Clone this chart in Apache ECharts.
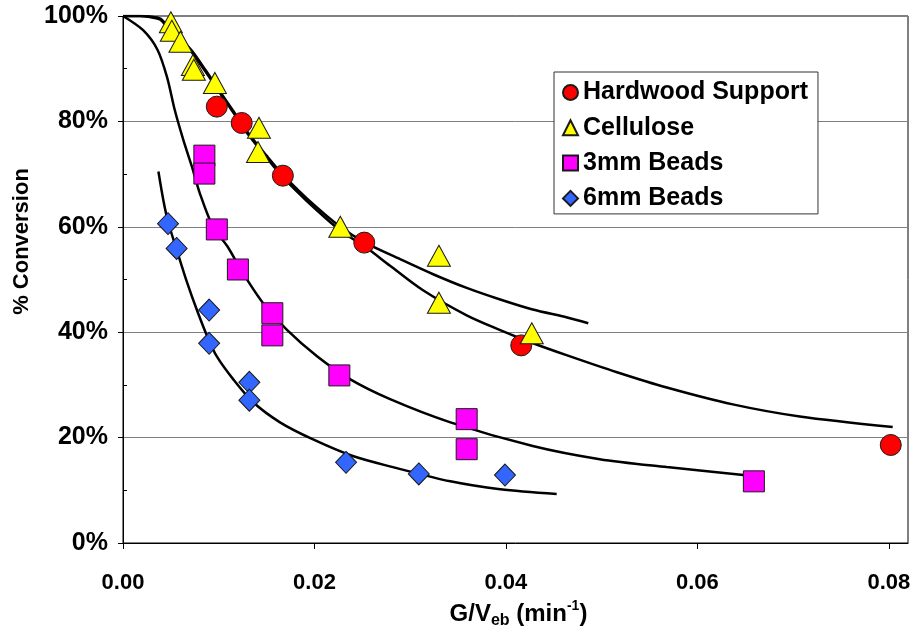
<!DOCTYPE html>
<html>
<head>
<meta charset="utf-8">
<title>Conversion vs G/Veb</title>
<script src="https://cdn.jsdelivr.net/npm/echarts@6/dist/echarts.min.js"></script>
<style>
  html, body { margin: 0; padding: 0; background: #fff; }
  #chart { width: 917px; height: 634px; }
</style>
</head>
<body>
<div id="chart"></div>
<script>
// measured points, [G/Veb, % conversion]
const hardwood = [[0.0098, 82.8], [0.0124, 79.7], [0.0167, 69.7], [0.0252, 57.0], [0.0416, 37.5], [0.0802, 18.6]];
const cellulose = [
  [0.0050, 98.8], [0.0051, 97.2], [0.0060, 95.1], [0.0073, 90.7], [0.0074, 89.8],
  [0.0096, 87.3], [0.0142, 78.8], [0.0141, 74.2], [0.0227, 60.0], [0.0330, 54.5],
  [0.0330, 45.6], [0.0427, 39.8]
];
const beads3mm = [
  [0.0085, 73.5], [0.0085, 70.1], [0.0098, 59.5], [0.0120, 51.9], [0.0156, 43.6],
  [0.0156, 39.4], [0.0226, 31.8], [0.0359, 23.5], [0.0359, 17.8], [0.0659, 11.7]
];
const beads6mm = [
  [0.0047, 60.6], [0.0056, 55.9], [0.0090, 44.2], [0.0090, 37.9], [0.0132, 30.5],
  [0.0132, 27.1], [0.0233, 15.3], [0.0309, 13.1], [0.0399, 12.9]
];

// fitted curves
const hardwoodFit = [
  [0, 100], [0.0018, 100], [0.0028, 99.8], [0.0039, 99.3], [0.0047, 97.7], [0.0060, 95.4],
  [0.0072, 93.1], [0.0086, 89.5], [0.0103, 84.9], [0.0117, 81.2], [0.0130, 77.7],
  [0.0150, 73.1], [0.0167, 69.4], [0.0192, 64.9], [0.0227, 59.3], [0.0253, 56.2],
  [0.0279, 52.6], [0.0313, 48.0], [0.0359, 43.2], [0.0394, 40.4], [0.0427, 38.0],
  [0.0464, 35.6], [0.0516, 32.4], [0.0568, 29.5], [0.0637, 26.3], [0.0707, 24.0], [0.0804, 22.0]
];
const celluloseFit = [
  [0, 100], [0.0018, 100], [0.0028, 99.9], [0.0039, 99.5], [0.0047, 98.0], [0.0060, 95.7],
  [0.0072, 93.4], [0.0086, 89.8], [0.0103, 85.2], [0.0117, 81.5], [0.0130, 78.0],
  [0.0150, 73.5], [0.0167, 69.9], [0.0192, 65.4], [0.0227, 60.0], [0.0253, 57.0],
  [0.0289, 53.9], [0.0324, 51.0], [0.0359, 48.4], [0.0394, 46.2], [0.0428, 44.3],
  [0.0464, 42.8], [0.0486, 41.7]
];
const beads3mmFit = [
  [0, 100], [0.0021, 97.3], [0.0036, 93.6], [0.0046, 88.4], [0.0054, 82.2], [0.0063, 76.5],
  [0.0072, 71.4], [0.0080, 66.5], [0.0094, 60.0], [0.0109, 56.3], [0.0125, 51.3],
  [0.0146, 45.6], [0.0171, 40.5], [0.0203, 35.4], [0.0237, 31.1], [0.0279, 27.3],
  [0.0342, 22.9], [0.0428, 18.4], [0.0498, 15.9], [0.0568, 14.4], [0.0648, 12.9]
];
const beads6mmFit = [
  [0.0037, 70.5], [0.0042, 65.2], [0.0047, 61.0], [0.0056, 55.7], [0.0067, 49.4],
  [0.0077, 44.3], [0.0088, 39.2], [0.0098, 35.4], [0.0115, 31.1], [0.0136, 26.7],
  [0.0164, 22.9], [0.0198, 19.7], [0.0240, 16.5], [0.0282, 14.4], [0.0342, 11.7],
  [0.0394, 10.2], [0.0453, 9.3]
];

const xTicks = [0, 0.02, 0.04, 0.06, 0.08];

const FONT = 'Arial, "Liberation Sans", sans-serif';

function dots(name, data, symbol, size, color) {
  return {
    name: name,
    type: 'scatter',
    data: data,
    symbol: symbol,
    symbolSize: size,
    z: 5,
    itemStyle: { color: color, borderColor: '#1a1a1a', borderWidth: 1, opacity: 1 },
    emphasis: { disabled: true }
  };
}

function fit(data) {
  return {
    type: 'line',
    data: data,
    showSymbol: false,
    smooth: 0.3,
    z: 3,
    lineStyle: { color: '#000', width: 2.5 },
    emphasis: { disabled: true },
    silent: true
  };
}

const chart = echarts.init(document.getElementById('chart'));

chart.setOption({
  animation: false,
  backgroundColor: '#fff',
  grid: {
    left: 123, top: 16, right: 9, bottom: 90,
    show: true, borderColor: '#000', borderWidth: 1
  },
  legend: {
    left: 554, top: 72,
    orient: 'vertical',
    backgroundColor: '#fff',
    borderColor: '#333',
    borderWidth: 1,
    padding: [8, 10, 3, 8],
    itemGap: 10.3,
    itemWidth: 15, itemHeight: 15,
    itemTextGap: 9,
    textStyle: { fontFamily: FONT, fontWeight: 'bold', fontSize: 25, lineHeight: 25, color: '#000' },
    data: [
      { name: 'Hardwood Support', icon: 'circle' },
      { name: 'Cellulose', icon: 'triangle' },
      { name: '3mm Beads', icon: 'rect' },
      { name: '6mm Beads', icon: 'diamond' }
    ]
  },
  xAxis: {
    type: 'value',
    min: 0, max: 0.082,
    name: '{a|G/V}{sub|eb}{a| (min}{sup|-1}{a|)}',
    nameLocation: 'middle',
    nameGap: 56,
    nameTextStyle: {
      padding: [0, 0, 0, 6],
      rich: {
        a: { fontFamily: FONT, fontWeight: 'bold', fontSize: 24, lineHeight: 30, color: '#000' },
        sub: { fontFamily: FONT, fontWeight: 'bold', fontSize: 16, lineHeight: 16, verticalAlign: 'bottom', color: '#000' },
        sup: { fontFamily: FONT, fontWeight: 'bold', fontSize: 14, lineHeight: 14, verticalAlign: 'top', color: '#000' }
      }
    },
    axisLine: { lineStyle: { color: '#000', width: 1 } },
    axisTick: { show: true, length: 6, lineStyle: { color: '#000' }, customValues: xTicks },
    axisLabel: {
      customValues: xTicks,
      margin: 29,
      fontFamily: FONT, fontWeight: 'bold', fontSize: 22, color: '#000',
      formatter: (v) => v.toFixed(2)
    },
    splitLine: { show: false }
  },
  yAxis: {
    type: 'value',
    min: 0, max: 100, interval: 20,
    name: '% Conversion',
    nameLocation: 'middle',
    nameGap: 85,
    nameTextStyle: { fontFamily: FONT, fontWeight: 'bold', fontSize: 22, color: '#000', padding: [0, 0, 0, 76] },
    axisLine: { show: true, lineStyle: { color: '#000', width: 1 } },
    axisTick: { show: true, length: 5, lineStyle: { color: '#000' } },
    minorTick: { show: true, splitNumber: 2, length: -4, lineStyle: { color: '#000' } },
    axisLabel: {
      margin: 15,
      fontFamily: FONT, fontWeight: 'bold', fontSize: 25, color: '#000',
      formatter: '{value}%'
    },
    splitLine: { show: true, lineStyle: { color: '#808080', width: 1 } }
  },
  series: [
    fit(hardwoodFit),
    fit(celluloseFit),
    fit(beads3mmFit),
    fit(beads6mmFit),
    dots('Hardwood Support', hardwood, 'circle', 21, '#ff0000'),
    dots('Cellulose', cellulose, 'triangle', [23, 21], '#ffff00'),
    dots('3mm Beads', beads3mm, 'rect', 21, '#ff00ff'),
    dots('6mm Beads', beads6mm, 'diamond', [21, 22], '#3366ff')
  ]
});
</script>
</body>
</html>
